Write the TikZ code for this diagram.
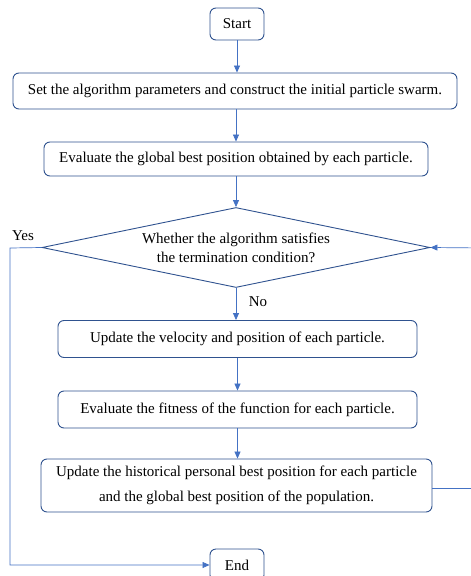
\documentclass[tikz,border=0pt]{standalone}
\usepackage{fontspec}
\setmainfont{Liberation Serif}
\usetikzlibrary{shapes.geometric,arrows.meta}
\definecolor{boxline}{RGB}{47,82,143}
\definecolor{flowline}{RGB}{68,114,196}
\tikzset{
  stepbox/.style={draw=boxline, line width=0.9pt, rounded corners=6pt, fill=white,
    inner sep=0pt, align=center, font=\fontsize{15}{25}\selectfont},
  decision/.style={draw=boxline, line width=0.9pt, diamond, aspect=4.85, inner sep=0pt,
    align=center, font=\fontsize{15}{19}\selectfont},
  flow/.style={draw=flowline, line width=0.7pt, -{Triangle[length=7pt,width=6pt]}},
  plainflow/.style={draw=flowline, line width=0.7pt},
  lbl/.style={font=\fontsize{15}{16}\selectfont}
}
\begin{document}
\begin{tikzpicture}[x=1pt,y=-1pt]
\useasboundingbox (0,0) rectangle (471,576);
\clip (0,0) rectangle (471,576);

% process boxes
\node[stepbox, minimum width=54, minimum height=32] (start) at (237,24) {Start};
\node[stepbox, minimum width=444, minimum height=36] (init) at (235,91)
  {Set the algorithm parameters and construct the initial particle swarm.};
\node[stepbox, minimum width=384, minimum height=34] (evalg) at (236,159)
  {Evaluate the global best position obtained by each particle.};
\node[decision, minimum width=388, minimum height=80] (term) at (236,247.5)
  {Whether the algorithm satisfies\\the termination condition?};
\node[stepbox, minimum width=359, minimum height=37] (upd) at (237.5,339)
  {Update the velocity and position of each particle.};
\node[stepbox, minimum width=359, minimum height=37] (fit) at (237.5,409.5)
  {Evaluate the fitness of the function for each particle.};
\node[stepbox, minimum width=391, minimum height=53] (best) at (236.5,485.5)
  {Update the historical personal best position for each particle\\and the global best position of the population.};
\node[stepbox, minimum width=54, minimum height=32] (end) at (237,565) {End};

% labels on the decision branches
\node[lbl] (yes) at (23,236) {Yes};
\node[lbl] (no) at (258,302) {No};

% loop-back corner points beyond the right edge
\coordinate (loopdown) at (485,488);
\coordinate (loopup) at (485,248);

% connectors
\draw[flow] (start) -- (start |- init.north);
\draw[flow] (init) -- (init.south -| evalg) -- (evalg.north);
\draw[flow] (evalg.south) -- (term.north);
\draw[flow] (term.south) -- (upd.north -| term.south);
\draw[flow] (upd.south -| fit.north) -- (fit.north);
\draw[flow] (fit.south) -- (best.north -| fit.south);
\draw[flow] (term.west) -- (10,248) |- (end.west);
\draw[plainflow] (best.east |- loopdown) -- (loopdown) -- (loopup);
\draw[flow] (loopup) -- (term.east);
\end{tikzpicture}
\end{document}
